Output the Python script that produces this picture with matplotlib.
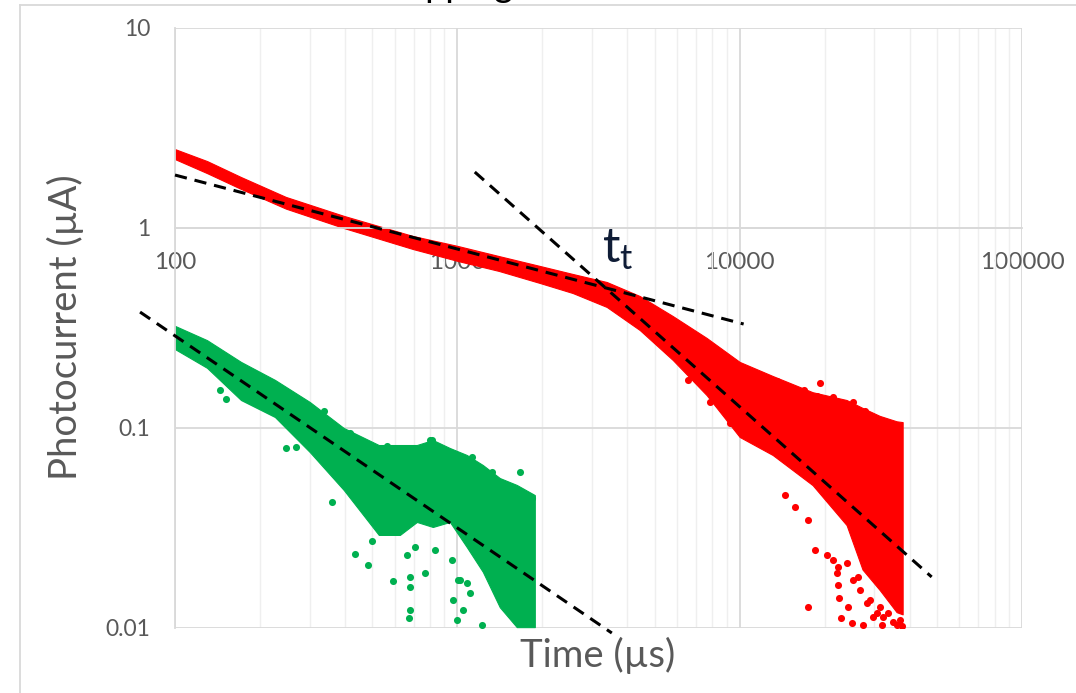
import matplotlib.pyplot as plt
from matplotlib.lines import Line2D
from matplotlib.ticker import FixedLocator, NullFormatter

plt.rcParams['font.family'] = ['Lato', 'DejaVu Sans']

# red trace: dense part of the cloud (time in us, upper and lower current in uA)
red_x = [100, 130, 171, 247, 396, 696, 1004, 1403, 1960, 2563, 3382, 4427,
         5793, 7640, 10000, 13090, 18130, 23920, 27240, 31320, 35970, 37780]
red_hi = [2.48, 2.16, 1.80, 1.43, 1.15, 0.912, 0.813, 0.724, 0.646, 0.589, 0.537, 0.457,
          0.363, 0.282, 0.214, 0.182, 0.151, 0.138, 0.126, 0.115, 0.108, 0.107]
red_lo = [2.21, 1.88, 1.57, 1.25, 1.0, 0.785, 0.684, 0.610, 0.531, 0.473, 0.403, 0.309,
          0.219, 0.146, 0.0902, 0.0733, 0.0518, 0.0327, 0.0196, 0.0155, 0.0120, 0.0117]

# red trace: scattered points outside the dense part
red_px = [6550, 7830, 9000, 9220, 13520, 16860, 18740, 19190, 21330, 25110, 27690,
          14430, 15660, 17410, 18420, 20310, 21330, 22030, 22220, 22400, 24110, 17410,
          22780, 24900, 27240, 26590, 28840, 29560, 31820, 33420, 35960, 36240, 26160,
          23930, 37000, 37500, 22220, 25110, 28150, 30550, 32060, 34800, 31320]
red_py = [0.174, 0.135, 0.116, 0.106, 0.172, 0.155, 0.144, 0.168, 0.143, 0.135, 0.121,
          0.0462, 0.0403, 0.0347, 0.0245, 0.0232, 0.0219, 0.0188, 0.0164, 0.0141, 0.0127, 0.0127,
          0.0112, 0.0106, 0.0104, 0.0155, 0.0138, 0.0114, 0.0104, 0.0119, 0.0104, 0.0127, 0.0180,
          0.0211, 0.0110, 0.0102, 0.0202, 0.0174, 0.0133, 0.0119, 0.0114, 0.0107, 0.0127]

# green trace: dense part of the cloud
green_x = [100, 129.8, 171.3, 225.9, 300, 396, 527, 626, 719, 819, 941, 1080,
           1231, 1414, 1624, 1881]
green_hi = [0.324, 0.275, 0.214, 0.174, 0.135, 0.100, 0.0822, 0.0822, 0.0822, 0.0871,
            0.0794, 0.0733, 0.0653, 0.0562, 0.0519, 0.0462]
green_lo = [0.248, 0.200, 0.138, 0.1135, 0.0759, 0.0490, 0.0292, 0.0292, 0.0339, 0.0320,
            0.0339, 0.0254, 0.0191, 0.0127, 0.0101, 0.0101]

# green trace: scattered points
green_px = [144, 152, 247, 268, 337, 359, 381, 416, 434, 482, 498, 563, 591, 631, 673,
            679, 679, 679, 767, 799, 812, 964, 996, 1020, 1045, 1221, 1664, 1835,
            662, 707, 832, 956, 1107, 1080, 1004, 1126, 1325, 1497]
green_py = [0.155, 0.140, 0.0794, 0.0804, 0.122, 0.0427, 0.0977, 0.0944, 0.0234, 0.0207,
            0.0272, 0.0813, 0.0172, 0.0785, 0.0112, 0.0123, 0.0160, 0.0180, 0.0188, 0.0871,
            0.0871, 0.0138, 0.0110, 0.0174, 0.0123, 0.0104, 0.0603, 0.0447,
            0.0232, 0.0254, 0.0245, 0.0219, 0.0150, 0.0168, 0.0174, 0.0716, 0.0603, 0.0501]

# power-law fit lines (end points)
fit1_x = [100, 10330]
fit1_y = [1.84, 0.331]
fit2_x = [1153, 47860]
fit2_y = [1.905, 0.018]
fit3_x = [75.2, 3525]
fit3_y = [0.380, 0.00944]

x_ticks = [100, 1000, 10000, 100000]
x_labels = ['100', '1000', '10000', '100000']
y_ticks = [0.01, 0.1, 1, 10]
y_labels = ['0.01', '0.1', '1', '10']

RED = '#ff0000'
GREEN = '#00b050'
GRID = '#d9d9d9'
TEXT = '#595959'

fig = plt.figure(figsize=(10.76, 6.93), dpi=100)
ax = fig.add_axes([175 / 1076, 65 / 693, 847 / 1076, 600 / 693])
ax.set_xscale('log')
ax.set_yscale('log')

# the clouds
ax.fill_between(red_x, red_lo, red_hi, color=RED, lw=0.8, zorder=2)
ax.scatter(red_px, red_py, s=26, color=RED, lw=0, zorder=2)
ax.fill_between(green_x, green_lo, green_hi, color=GREEN, lw=0.8, zorder=2)
ax.scatter(green_px, green_py, s=26, color=GREEN, lw=0, zorder=2)

# fit lines
for fx, fy in [(fit1_x, fit1_y), (fit2_x, fit2_y), (fit3_x, fit3_y)]:
    ax.plot(fx, fy, color='black', lw=2.2, dashes=(4, 2.6), zorder=4, clip_on=False)

ax.text(3245, 0.676, r'$\mathregular{t_t}$', fontsize=35, color='#0f1c36',
        ha='left', va='baseline')

ax.set_xlim(100, 100000)
ax.set_ylim(0.01, 10)
ax.xaxis.set_major_locator(FixedLocator(x_ticks))
ax.set_xticklabels(x_labels)
minor = [m * d for d in [100, 1000, 10000] for m in range(2, 10)]
ax.xaxis.set_minor_locator(FixedLocator(minor))
ax.xaxis.set_minor_formatter(NullFormatter())
ax.yaxis.set_major_locator(FixedLocator(y_ticks))
ax.set_yticklabels(y_labels)
ax.yaxis.set_minor_locator(FixedLocator([]))

ax.set_axisbelow(True)
ax.grid(which='major', color=GRID, lw=1.3)
ax.grid(which='minor', axis='x', color='#efefef', lw=1.0)

ax.spines['top'].set_visible(False)
ax.spines['right'].set_visible(False)
ax.spines['left'].set_color(GRID)
ax.spines['left'].set_linewidth(1.3)
ax.spines['bottom'].set_position(('data', 1))
ax.spines['bottom'].set_color(GRID)
ax.spines['bottom'].set_linewidth(1.3)
ax.tick_params(axis='x', which='both', length=0, pad=17, labelsize=17.5, labelcolor=TEXT)
ax.tick_params(axis='y', which='both', length=0, pad=18, labelsize=16.5, labelcolor=TEXT)

fig.text(65 / 1076, 1 - 327 / 693, 'Photocurrent (µA)', rotation=90, fontsize=27.5,
         color=TEXT, ha='center', va='center')
fig.text(598 / 1076, 1 - 655 / 693, 'Time (µs)', fontsize=27.5, color=TEXT,
         ha='center', va='center')

# title, mostly cut off at the top of the picture
fig.text(374 / 1076, 1 + 3 / 693, 'Trapping', fontsize=26, color='black',
         ha='left', va='baseline')

# outer chart frame
fig.add_artist(Line2D([20 / 1076, 20 / 1076], [0, 1 - 5 / 693], color=GRID, lw=1.3,
                      transform=fig.transFigure))
fig.add_artist(Line2D([20 / 1076, 1], [1 - 5 / 693, 1 - 5 / 693], color=GRID, lw=1.3,
                      transform=fig.transFigure))

fig.savefig('out.png', dpi=100)
